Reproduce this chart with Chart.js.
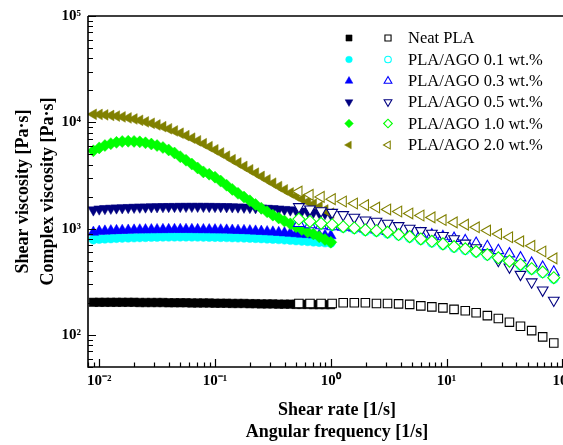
<!DOCTYPE html>
<html lang="en">
<head>
  <meta charset="UTF-8">
  <title>Shear and complex viscosity of PLA/AGO</title>
  <script src="https://cdn.jsdelivr.net/npm/chart.js"></script>
  <style>
    html, body {
      margin: 0;
      padding: 0;
      background: #ffffff;
      overflow: hidden;
    }
    #wrap {
      width: 563px;
      height: 445px;
      overflow: hidden;
    }
    canvas {
      display: block;
    }
  </style>
</head>
<body>
<div id="wrap">
  <canvas id="chart" width="600" height="445"></canvas>
</div>

<script>
  // steady shear sweep (filled symbols), shear rate in 1/s
  const shearRate = [0.0089, 0.01, 0.0112, 0.0126, 0.0141, 0.0158, 0.0178, 0.02, 0.0224, 0.0251,
    0.0282, 0.0316, 0.0355, 0.0398, 0.0447, 0.0501, 0.0562, 0.0631, 0.0708, 0.0794,
    0.0891, 0.1, 0.112, 0.126, 0.141, 0.158, 0.178, 0.2, 0.224, 0.251,
    0.282, 0.316, 0.355, 0.398, 0.447, 0.501, 0.562, 0.631, 0.708, 0.794, 0.891, 1.0];

  // oscillatory sweep (open symbols), angular frequency in 1/s
  const angFreq = [0.53, 0.661, 0.824, 1.027, 1.28, 1.596, 1.989, 2.48, 3.09, 3.85,
    4.8, 5.99, 7.46, 9.3, 11.6, 14.5, 18.0, 22.5, 28.0, 34.9, 43.5, 54.3, 67.6, 84.3];

  // shear viscosity [Pa·s]
  const neatShear = [203, 203, 203, 203, 203, 203, 203, 203, 202, 202, 202, 202, 202, 201, 201, 201,
    201, 200, 200, 200, 200, 199, 199, 199, 198, 198, 198, 197, 197, 196, 196, 196, 195, 195, 195,
    194, 194, 194, 193, 193, 193, 193];
  const ago01Shear = [790, 800, 805, 810, 815, 820, 823, 826, 829, 832, 835, 837, 839, 840, 841, 841,
    841, 840, 839, 838, 836, 834, 832, 830, 827, 824, 821, 818, 814, 810, 805, 800, 795, 789, 782,
    775, 768, 762, 755, 748, 741, 735];
  const ago03Shear = [925, 945, 950, 955, 960, 964, 968, 971, 974, 976, 978, 980, 981, 982, 983, 983,
    983, 982, 981, 980, 978, 976, 974, 971, 968, 964, 960, 955, 950, 944, 937, 930, 922, 914, 906,
    897, 889, 881, 874, 867, 862, 858];
  const ago05Shear = [1500, 1530, 1545, 1555, 1565, 1572, 1580, 1587, 1593, 1598, 1603, 1607, 1611,
    1614, 1616, 1618, 1619, 1620, 1620, 1619, 1618, 1616, 1613, 1609, 1604, 1598, 1591, 1583, 1574,
    1564, 1553, 1541, 1528, 1514, 1499, 1483, 1466, 1448, 1429, 1409, 1388, 1366];
  const ago10Shear = [5400, 5750, 6050, 6300, 6480, 6600, 6640, 6620, 6550, 6420, 6250, 6050, 5800,
    5500, 5150, 4750, 4400, 4050, 3720, 3420, 3250, 3050, 2800, 2560, 2340, 2150, 1980, 1830, 1690,
    1560, 1440, 1340, 1260, 1180, 1110, 1040, 980, 930, 890, 840, 790, 745];
  const ago20Shear = [11900, 11850, 11750, 11600, 11450, 11250, 11000, 10750, 10450, 10100, 9800,
    9450, 9100, 8700, 8300, 7900, 7500, 7100, 6700, 6300, 5900, 5520, 5150, 4800, 4450, 4150, 3850,
    3580, 3330, 3100, 2880, 2680, 2490, 2320, 2170, 2030, 1900, 1790, 1700, 1600, 1500, 1400];

  // complex viscosity [Pa·s]
  const neatComplex = [198, 198, 198, 198, 201, 201, 201, 198, 198, 196, 194, 188, 184, 180, 174, 169,
    162, 152, 143, 132, 121, 110, 96, 84];
  const ago01Complex = [1205, 1145, 1100, 1065, 1025, 995, 955, 940, 905, 865, 825, 785, 745, 705,
    665, 633, 598, 560, 522, 485, 452, 412, 383, 339];
  const ago03Complex = [1121, 1089, 1066, 1044, 1032, 1015, 994, 972, 943, 925, 904, 894, 874, 842, 811,
    772, 729, 679, 623, 580, 532, 474, 435, 391];
  const ago05Complex = [1607, 1528, 1473, 1421, 1352, 1276, 1205, 1170, 1121, 1066, 1007, 957, 904,
    861, 801, 729, 660, 580, 502, 435, 371, 315, 264, 212];
  const ago10Complex = [1231, 1170, 1121, 1089, 1044, 1015, 972, 957, 925, 880, 842, 801, 761, 719,
    679, 646, 610, 571, 532, 495, 461, 420, 391, 346];
  const ago20Complex = [2234, 2080, 1990, 1895, 1800, 1725, 1665, 1580, 1515, 1450, 1390, 1330, 1275,
    1205, 1145, 1090, 1030, 960, 890, 830, 760, 690, 610, 525];

  const seriesNames = ['Neat PLA', 'PLA/AGO 0.1 wt.%', 'PLA/AGO 0.3 wt.%', 'PLA/AGO 0.5 wt.%',
    'PLA/AGO 1.0 wt.%', 'PLA/AGO 2.0 wt.%'];
  const seriesColors = ['#000000', '#00ffff', '#0000ff', '#000080', '#00ff00', '#808000'];

  const xTickLabels = ['10⁻²', '10⁻¹', '10⁰', '10¹', '10²'];
  const yTickLabels = ['10²', '10³', '10⁴', '10⁵'];

  // marker shape per series: [pointStyle, rotation, radius]
  const markers = [
    ['rect', 0, 6],
    ['circle', 0, 4.6],
    ['triangle', 0, 6.2],
    ['triangle', 180, 6.2],
    ['rectRot', 0, 6],
    ['triangle', -90, 6.2]
  ];

  const shearSets = [neatShear, ago01Shear, ago03Shear, ago05Shear, ago10Shear, ago20Shear];
  const complexSets = [neatComplex, ago01Complex, ago03Complex, ago05Complex, ago10Complex, ago20Complex];

  const toPoints = (xs, ys) => xs.map((x, i) => ({ x: x, y: ys[i] }));

  const datasets = [];
  seriesNames.forEach((name, i) => {
    const [style, rot, r] = markers[i];
    datasets.push({
      label: name + ' (shear)',
      data: toPoints(shearRate, shearSets[i]),
      pointStyle: style,
      rotation: rot,
      pointRadius: r,
      backgroundColor: seriesColors[i],
      borderColor: seriesColors[i],
      borderWidth: 0.5,
      showLine: false,
      order: 100 - i
    });
  });
  // open symbols are white-filled and drawn over the filled ones
  seriesNames.forEach((name, i) => {
    const [style, rot, r] = markers[i];
    datasets.push({
      label: name + ' (complex)',
      data: toPoints(angFreq, complexSets[i]),
      pointStyle: style,
      rotation: rot,
      pointRadius: r,
      backgroundColor: '#ffffff',
      borderColor: seriesColors[i],
      borderWidth: 1.1,
      showLine: false,
      order: 50 - i
    });
  });

  const serif = '"Liberation Serif", "Times New Roman", serif';
  const decadesX = [0.01, 0.1, 1, 10, 100];
  const decadesY = [100, 1000, 10000, 100000];

  // frame and inward tick marks
  const framePlugin = {
    id: 'frame',
    afterDraw(chart) {
      const { ctx, chartArea: a, scales: { x, y } } = chart;
      ctx.save();
      ctx.strokeStyle = '#000';
      ctx.lineWidth = 1.6;
      ctx.beginPath();
      ctx.moveTo(a.left, a.top);
      ctx.lineTo(a.right, a.top);
      ctx.moveTo(a.left, a.top);
      ctx.lineTo(a.left, a.bottom);
      ctx.lineTo(a.right, a.bottom);
      ctx.stroke();

      ctx.lineWidth = 1.2;
      ctx.beginPath();
      for (let e = -3; e <= 2; e++) {
        for (let m = 1; m <= 9; m++) {
          const v = m * Math.pow(10, e);
          if (v < x.min || v > x.max) continue;
          const px = Math.round(x.getPixelForValue(v)) + 0.5;
          const len = m === 1 ? 8 : 4.5;
          ctx.moveTo(px, a.bottom);
          ctx.lineTo(px, a.bottom - len);
        }
      }
      for (let e = 1; e <= 5; e++) {
        for (let m = 1; m <= 9; m++) {
          const v = m * Math.pow(10, e);
          if (v < y.min || v > y.max) continue;
          const py = Math.round(y.getPixelForValue(v)) + 0.5;
          const len = m === 1 ? 8 : 5;
          ctx.moveTo(a.left, py);
          ctx.lineTo(a.left + len, py);
        }
      }
      ctx.stroke();
      ctx.restore();
    }
  };

  // two-column legend: filled = shear, open = complex
  const legendPlugin = {
    id: 'pairLegend',
    afterDraw(chart) {
      const ctx = chart.ctx;
      const rowY = [38, 59.5, 81, 102, 123.5, 145];
      ctx.save();
      seriesNames.forEach((name, i) => {
        const [style, rot, r] = markers[i];
        const opts = { pointStyle: style, rotation: rot, radius: r * 0.72, borderWidth: 0.5 };
        ctx.fillStyle = seriesColors[i];
        ctx.strokeStyle = seriesColors[i];
        ctx.lineWidth = 0.5;
        Chart.helpers.drawPoint(ctx, opts, 349, rowY[i]);
        ctx.fillStyle = '#ffffff';
        ctx.lineWidth = 1.1;
        Chart.helpers.drawPoint(ctx, Object.assign({}, opts, { borderWidth: 1.1 }), 388, rowY[i]);
        ctx.fillStyle = '#000';
        ctx.font = '16.5px ' + serif;
        ctx.textBaseline = 'middle';
        ctx.textAlign = 'left';
        ctx.fillText(name, 408, rowY[i] + 1);
      });
      ctx.restore();
    }
  };

  const ctx = document.getElementById('chart').getContext('2d');
  const chart = new Chart(ctx, {
    type: 'scatter',
    data: { datasets: datasets },
    plugins: [framePlugin, legendPlugin],
    options: {
      responsive: false,
      animation: false,
      devicePixelRatio: 1,
      layout: { padding: { top: 14, right: 14, left: 0, bottom: 0 } },
      plugins: {
        legend: { display: false },
        tooltip: { enabled: false }
      },
      scales: {
        x: {
          type: 'logarithmic',
          min: 0.008,
          max: 160,
          border: { display: false },
          grid: { display: false, drawTicks: false },
          afterBuildTicks: s => { s.ticks = decadesX.map(v => ({ value: v, major: true })); },
          afterFit: s => { s.height = 78; },
          ticks: {
            color: '#000',
            padding: 5,
            maxRotation: 0,
            autoSkip: false,
            font: { family: serif, size: 15, weight: 'bold' },
            callback: v => xTickLabels[decadesX.indexOf(v)]
          },
          title: {
            display: true,
            text: ['Shear rate [1/s]', 'Angular frequency [1/s]'],
            color: '#000',
            font: { family: serif, size: 18, weight: 'bold', lineHeight: 1.22 },
            padding: { top: 0, bottom: 2 }
          }
        },
        y: {
          type: 'logarithmic',
          min: 50,
          max: 100000,
          border: { display: false },
          grid: { display: false, drawTicks: false },
          afterBuildTicks: s => { s.ticks = decadesY.map(v => ({ value: v, major: true })); },
          afterFit: s => { s.width = 88; },
          ticks: {
            color: '#000',
            padding: 7,
            autoSkip: false,
            font: { family: serif, size: 15, weight: 'bold' },
            callback: v => yTickLabels[decadesY.indexOf(v)]
          },
          title: {
            display: true,
            text: ['Shear viscosity [Pa·s]', 'Complex viscosity [Pa·s]'],
            color: '#000',
            font: { family: serif, size: 18, weight: 'bold', lineHeight: 1.38 },
            padding: { top: 11, bottom: 0 }
          }
        }
      }
    }
  });
</script>
</body>
</html>
